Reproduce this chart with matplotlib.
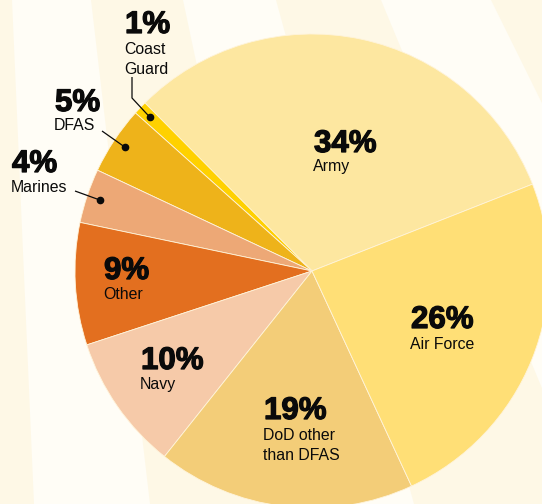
import matplotlib
matplotlib.use("Agg")
import numpy as np
import matplotlib.pyplot as plt
from matplotlib.patches import Polygon
import matplotlib.patheffects as pe

# ---------------- data ----------------
categories = ["Army", "Coast Guard", "DFAS", "Marines", "Other", "Navy",
              "DoD other than DFAS", "Air Force"]
display_names = ["Army", "Coast\nGuard", "DFAS", "Marines", "Other", "Navy",
                 "DoD other\nthan DFAS", "Air Force"]
shares = [34, 1, 5, 4, 9, 10, 19, 26]
pct_labels = [f"{v}%" for v in shares]
colors = ["#FDE7A0", "#FFD100", "#EEB31A", "#EDA876", "#E36F1F",
          "#F6CAA9", "#F3CD78", "#FFDF76"]

# ---------------- layout (pixel coords, origin top-left) ----------------
W, H = 542, 504
CX, CY, R = 312, 271, 237
# label anchor: (left x, baseline of percentage, baseline of first name line)
label_pos = {
    "Army": (314, 152, 171),
    "Coast Guard": (125, 33, 54),
    "DFAS": (55, 111, 130),
    "Marines": (12, 172, 192),
    "Other": (104, 279, 299),
    "Navy": (141, 369, 389),
    "DoD other than DFAS": (264, 419, 440),
    "Air Force": (411, 328, 349),
}
# leader lines (start points) for small slices
leader_start = {
    "Coast Guard": [(132, 77), (132, 98)],
    "DFAS": [(102, 131)],
    "Marines": [(75, 191)],
}
# background ray boundaries (x at top, x at bottom)
ray_bands = [((-40, 12), (-40, 34)), ((91, 183), (150, 290)),
             ((276, 381), (414, 590)), ((491, 800), (740, 1100))]

BG = "#FFFDF6"
CREAM = "#FEF8E6"

fig = plt.figure(figsize=(W / 100, H / 100), dpi=100)
fig.patch.set_facecolor(BG)
ax = fig.add_axes([0, 0, 1, 1])


def py(y):
    return H - y


for (t0, t1), (b0, b1) in ray_bands:
    ax.add_patch(Polygon([(t0, py(0)), (t1, py(0)), (b1, py(H)), (b0, py(H))],
                         closed=True, facecolor=CREAM, edgecolor="none", zorder=0))

wedges, _ = ax.pie(shares, colors=colors, startangle=21.5, counterclock=True,
                   center=(CX, py(CY)), radius=R, frame=True,
                   wedgeprops=dict(linewidth=0.6, edgecolor="#FFF4DA", zorder=2))

ax.set_xlim(0, W)
ax.set_ylim(0, H)
ax.set_aspect("equal")
ax.axis("off")

txt_color = "#0A0A0A"
heavy = [pe.withStroke(linewidth=0.9, foreground=txt_color)]
for cat, name, pct, w in zip(categories, display_names, pct_labels, wedges):
    x, yb, yn = label_pos[cat]
    ax.text(x, py(yb), pct, ha="left", va="baseline", fontsize=22.5,
            fontweight="bold", family="Liberation Sans", color=txt_color,
            path_effects=heavy, zorder=5)
    for i, line in enumerate(name.split("\n")):
        ax.text(x - 1, py(yn + 20 * i), line, ha="left", va="baseline",
                fontsize=11.4, family="Liberation Sans", color=txt_color, zorder=5)
    if cat in leader_start:
        mid = np.deg2rad((w.theta1 + w.theta2) / 2)
        dx = CX + 0.945 * R * np.cos(mid)
        dy = py(CY) + 0.945 * R * np.sin(mid)
        pts = [(px, py(pyy)) for px, pyy in leader_start[cat]] + [(dx, dy)]
        xs, ys = zip(*pts)
        ax.plot(xs, ys, color=txt_color, lw=0.9, zorder=5,
                solid_capstyle="butt")
        ax.plot([dx], [dy], "o", color=txt_color, ms=4.5, zorder=6)

fig.savefig("out.png", dpi=100, facecolor=BG)
